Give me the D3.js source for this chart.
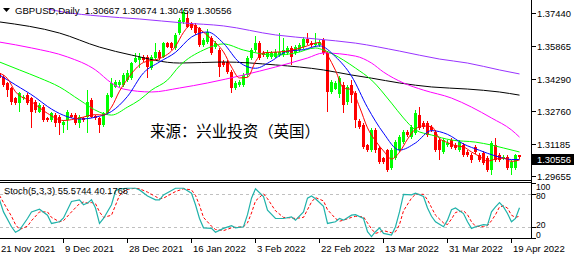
<!DOCTYPE html>
<html>
<head>
<meta charset="utf-8">
<script src="https://cdn.jsdelivr.net/npm/d3@7"></script>
<style>
  body { margin: 0; background: #fff; }
  svg { display: block; font-family: "Liberation Sans", Arial, sans-serif; }
</style>
</head>
<body>
<div id="chart"></div>
<script>
// daily bars, Sun-Fri broker sessions
const dates = [
  "2021-11-21","2021-11-22","2021-11-23","2021-11-24","2021-11-25","2021-11-26","2021-11-28","2021-11-29","2021-11-30",
  "2021-12-01","2021-12-02","2021-12-03","2021-12-05","2021-12-06","2021-12-07","2021-12-08","2021-12-09","2021-12-10",
  "2021-12-12","2021-12-13","2021-12-14","2021-12-15","2021-12-16","2021-12-17","2021-12-19","2021-12-20","2021-12-21",
  "2021-12-22","2021-12-23","2021-12-24","2021-12-26","2021-12-27","2021-12-28","2021-12-29","2021-12-30","2021-12-31",
  "2022-01-02","2022-01-03","2022-01-04","2022-01-05","2022-01-06","2022-01-07","2022-01-09","2022-01-10","2022-01-11",
  "2022-01-12","2022-01-13","2022-01-14","2022-01-16","2022-01-17","2022-01-18","2022-01-19","2022-01-20","2022-01-21",
  "2022-01-23","2022-01-24","2022-01-25","2022-01-26","2022-01-27","2022-01-28","2022-01-30","2022-01-31","2022-02-01",
  "2022-02-02","2022-02-03","2022-02-04","2022-02-06","2022-02-07","2022-02-08","2022-02-09","2022-02-10","2022-02-11",
  "2022-02-13","2022-02-14","2022-02-15","2022-02-16","2022-02-17","2022-02-18","2022-02-20","2022-02-21","2022-02-22",
  "2022-02-23","2022-02-24","2022-02-25","2022-02-27","2022-02-28","2022-03-01","2022-03-02","2022-03-03","2022-03-04",
  "2022-03-06","2022-03-07","2022-03-08","2022-03-09","2022-03-10","2022-03-11","2022-03-13","2022-03-14","2022-03-15",
  "2022-03-16","2022-03-17","2022-03-18","2022-03-20","2022-03-21","2022-03-22","2022-03-23","2022-03-24","2022-03-25",
  "2022-03-27","2022-03-28","2022-03-29","2022-03-30","2022-03-31","2022-04-01","2022-04-03","2022-04-04","2022-04-05",
  "2022-04-06","2022-04-07","2022-04-08","2022-04-10","2022-04-11","2022-04-12","2022-04-13","2022-04-14","2022-04-15",
  "2022-04-17","2022-04-18","2022-04-19","2022-04-20","2022-04-21"
];

// open, high, low, close
const ohlc = [
  [1.3455,1.3462,1.3420,1.3431],[1.3439,1.3447,1.3391,1.3399],[1.3407,1.3415,1.3343,1.3375],[1.3383,1.3391,1.3304,1.3320],
  [1.3336,1.3343,1.3304,1.3312],[1.3312,1.3368,1.3272,1.3360],[1.3339,1.3351,1.3328,1.3343],[1.3351,1.3360,1.3304,1.3312],
  [1.3336,1.3343,1.3193,1.3272],[1.3320,1.3328,1.3264,1.3280],[1.3272,1.3312,1.3264,1.3304],[1.3296,1.3304,1.3224,1.3232],
  [1.3243,1.3248,1.3224,1.3232],[1.3232,1.3272,1.3224,1.3264],[1.3256,1.3264,1.3200,1.3216],[1.3248,1.3256,1.3161,1.3216],
  [1.3208,1.3232,1.3169,1.3224],[1.3232,1.3280,1.3185,1.3272],[1.3256,1.3264,1.3240,1.3248],[1.3256,1.3264,1.3208,1.3216],
  [1.3216,1.3256,1.3193,1.3248],[1.3240,1.3248,1.3224,1.3232],[1.3248,1.3375,1.3169,1.3320],[1.3328,1.3336,1.3240,1.3248],
  [1.3251,1.3256,1.3232,1.3240],[1.3243,1.3248,1.3169,1.3208],[1.3208,1.3272,1.3200,1.3264],[1.3264,1.3360,1.3256,1.3351],
  [1.3343,1.3431,1.3336,1.3407],[1.3391,1.3423,1.3383,1.3415],[1.3399,1.3423,1.3391,1.3415],[1.3399,1.3455,1.3391,1.3447],
  [1.3423,1.3471,1.3415,1.3455],[1.3431,1.3510,1.3423,1.3503],[1.3510,1.3550,1.3503,1.3527],[1.3518,1.3550,1.3479,1.3534],
  [1.3534,1.3542,1.3510,1.3518],[1.3534,1.3542,1.3431,1.3486],[1.3479,1.3542,1.3471,1.3534],[1.3527,1.3598,1.3518,1.3558],
  [1.3558,1.3566,1.3518,1.3527],[1.3534,1.3606,1.3527,1.3598],[1.3598,1.3606,1.3574,1.3582],[1.3598,1.3606,1.3566,1.3574],
  [1.3574,1.3646,1.3566,1.3638],[1.3647,1.3719,1.3638,1.3709],[1.3700,1.3757,1.3690,1.3747],[1.3719,1.3747,1.3670,1.3676],
  [1.3695,1.3700,1.3661,1.3671],[1.3685,1.3695,1.3638,1.3647],[1.3671,1.3676,1.3580,1.3590],[1.3590,1.3623,1.3580,1.3614],
  [1.3605,1.3666,1.3595,1.3652],[1.3623,1.3633,1.3542,1.3552],[1.3580,1.3609,1.3571,1.3599],[1.3566,1.3576,1.3437,1.3485],
  [1.3509,1.3518,1.3485,1.3495],[1.3509,1.3518,1.3452,1.3461],[1.3461,1.3471,1.3361,1.3385],[1.3385,1.3418,1.3375,1.3409],
  [1.3399,1.3423,1.3390,1.3413],[1.3399,1.3456,1.3390,1.3447],[1.3447,1.3537,1.3437,1.3528],[1.3528,1.3576,1.3518,1.3566],
  [1.3566,1.3633,1.3556,1.3599],[1.3599,1.3609,1.3518,1.3528],[1.3552,1.3561,1.3533,1.3542],[1.3533,1.3566,1.3523,1.3556],
  [1.3533,1.3561,1.3523,1.3552],[1.3533,1.3571,1.3528,1.3556],[1.3542,1.3647,1.3533,1.3556],[1.3542,1.3623,1.3533,1.3566],
  [1.3552,1.3585,1.3542,1.3576],[1.3576,1.3585,1.3495,1.3533],[1.3552,1.3590,1.3542,1.3580],[1.3566,1.3599,1.3556,1.3590],
  [1.3580,1.3628,1.3571,1.3619],[1.3619,1.3647,1.3590,1.3599],[1.3599,1.3609,1.3580,1.3590],[1.3590,1.3647,1.3580,1.3599],
  [1.3590,1.3614,1.3580,1.3604],[1.3614,1.3623,1.3542,1.3552],[1.3552,1.3561,1.3270,1.3366],[1.3366,1.3423,1.3356,1.3413],
  [1.3380,1.3418,1.3375,1.3409],[1.3356,1.3442,1.3337,1.3432],[1.3399,1.3413,1.3265,1.3304],[1.3318,1.3399,1.3304,1.3390],
  [1.3399,1.3423,1.3313,1.3351],[1.3361,1.3370,1.3194,1.3232],[1.3228,1.3237,1.3190,1.3199],[1.3208,1.3218,1.3094,1.3104],
  [1.3113,1.3118,1.3080,1.3089],[1.3089,1.3194,1.3080,1.3185],[1.3185,1.3194,1.3075,1.3089],[1.3099,1.3108,1.3022,1.3032],
  [1.3051,1.3056,1.3022,1.3032],[1.3089,1.3094,1.2984,1.2994],[1.3003,1.3099,1.2994,1.3089],[1.3051,1.3137,1.3042,1.3127],
  [1.3089,1.3161,1.3080,1.3151],[1.3127,1.3185,1.3118,1.3175],[1.3175,1.3185,1.3151,1.3161],[1.3151,1.3208,1.3142,1.3199],
  [1.3170,1.3280,1.3160,1.3266],[1.3256,1.3294,1.3185,1.3194],[1.3218,1.3228,1.3190,1.3199],[1.3218,1.3228,1.3151,1.3161],
  [1.3199,1.3208,1.3175,1.3185],[1.3175,1.3185,1.3080,1.3089],[1.3137,1.3146,1.3042,1.3089],[1.3080,1.3146,1.3070,1.3137],
  [1.3113,1.3137,1.3104,1.3123],[1.3137,1.3146,1.3094,1.3104],[1.3113,1.3123,1.3089,1.3099],[1.3089,1.3137,1.3080,1.3127],
  [1.3113,1.3123,1.3056,1.3065],[1.3080,1.3089,1.3056,1.3065],[1.3065,1.3075,1.3027,1.3042],[1.3104,1.3113,1.3070,1.3080],
  [1.3065,1.3075,1.3032,1.3042],[1.3075,1.3085,1.3018,1.3027],[1.3051,1.3061,1.2984,1.2994],[1.2994,1.3132,1.2970,1.3123],
  [1.3113,1.3146,1.3032,1.3042],[1.3065,1.3075,1.3032,1.3042],[1.3051,1.3065,1.3042,1.3056],[1.3056,1.3065,1.2994,1.3003],
  [1.3003,1.3042,1.2970,1.3032],[1.3003,1.3070,1.2994,1.3065],[1.30667,1.30674,1.30459,1.30556]
];

// moving averages: [bar index, price]
const maRed = [[0,1.3456],[2,1.3430],[4,1.3367],[8,1.3320],[12,1.3264],[16,1.3230],[20,1.3242],[24,1.3258],[26,1.3256],
  [28,1.3294],[30,1.3370],[32,1.3428],[36,1.3507],[40,1.3525],[44,1.3584],[46,1.3650],[48,1.3688],[50,1.3666],[52,1.3635],
  [54,1.3601],[56,1.3557],[58,1.3485],[60,1.3433],[62,1.3436],[64,1.3511],[66,1.3553],[68,1.3555],[72,1.3561],[76,1.3580],
  [80,1.3602],[82,1.3542],[84,1.3469],[86,1.3385],[88,1.3377],[90,1.3295],[92,1.3195],[94,1.3133],[96,1.3085],[98,1.3047],
  [100,1.3079],[102,1.3141],[104,1.3190],[106,1.3204],[108,1.3201],[110,1.3145],[112,1.3125],[114,1.3110],[116,1.3104],
  [118,1.3080],[120,1.3059],[122,1.3037],[124,1.3046],[126,1.3051],[128,1.3035],[130,1.3042]];
const maBlue = [[0,1.3447],[4,1.3400],[9,1.3340],[12,1.3297],[16,1.3255],[20,1.3237],[24,1.3246],[28,1.3273],[32,1.3345],
  [36,1.3457],[40,1.3509],[44,1.3555],[48,1.3628],[52,1.3652],[56,1.3598],[60,1.3507],[64,1.3479],[68,1.3514],[72,1.3560],
  [76,1.3568],[80,1.3586],[84,1.3534],[88,1.3442],[92,1.3292],[96,1.3170],[100,1.3089],[104,1.3123],[108,1.3182],
  [112,1.3164],[116,1.3118],[120,1.3088],[124,1.3061],[128,1.3044],[130,1.3044]];
const maGreen = [[0,1.3509],[5,1.3471],[10,1.3433],[15,1.3390],[20,1.3328],[25,1.3270],[28,1.3256],[32,1.3294],[35,1.3328],
  [38,1.3375],[42,1.3423],[45,1.3490],[51,1.3566],[56,1.3595],[61,1.3566],[69,1.3542],[74,1.3552],[79,1.3576],[81,1.3566],
  [86,1.3518],[89,1.3480],[93,1.3423],[98,1.3313],[101,1.3242],[104,1.3185],[108,1.3161],[113,1.3137],[119,1.3127],
  [123,1.3113],[126,1.3099],[130,1.3080]];
const maMagenta = [[0,1.3604],[8,1.3576],[17,1.3533],[24,1.3471],[28,1.3409],[31,1.3380],[38,1.3366],[45,1.3385],[52,1.3409],
  [61,1.3447],[69,1.3485],[77,1.3528],[81,1.3552],[89,1.3537],[93,1.3504],[96,1.3461],[101,1.3409],[106,1.3375],
  [113,1.3337],[118,1.3294],[123,1.3242],[128,1.3185],[130,1.3151]];
const maBlack = [[0,1.3700],[15,1.3647],[25,1.3580],[33,1.3542],[45,1.3504],[56,1.3509],[69,1.3495],[81,1.3471],[88,1.3447],
  [93,1.3432],[100,1.3409],[108,1.3390],[117,1.3380],[125,1.3366],[130,1.3351]];
const maPurple = [[12,1.3762],[16,1.3747],[25,1.3728],[35,1.3714],[46,1.3695],[56,1.3681],[69,1.3638],[79,1.3619],[89,1.3599],
  [100,1.3561],[110,1.3523],[117,1.3504],[125,1.3471],[130,1.3452]];

// Stochastic (5,3,3): [bar index, value]
const stochK = [[0,70],[1,48],[3,21],[4,11],[5,15],[7,36],[8,48],[10,53],[12,42],[13,27],[15,30],[16,37],[18,67],[20,70],
  [21,61],[22,64],[23,70],[24,55],[25,27],[26,36],[28,61],[29,86],[30,90],[32,91],[34,91],[35,88],[37,77],[39,70],[40,70],
  [41,79],[44,91],[46,91],[48,82],[49,61],[50,36],[51,19],[53,18],[54,11],[56,18],[58,23],[59,19],[61,21],[62,43],[63,73],
  [64,90],[66,76],[67,51],[69,36],[71,36],[73,39],[74,33],[76,48],[77,73],[78,77],[79,72],[81,58],[82,27],[84,30],[85,36],
  [86,33],[88,42],[89,43],[91,36],[92,12],[93,3],[94,12],[95,19],[96,9],[98,6],[99,21],[100,48],[101,80],[103,79],[104,82],
  [106,76],[107,55],[108,40],[109,30],[111,21],[112,33],[113,52],[114,55],[116,45],[117,30],[118,18],[119,21],[121,25],
  [122,24],[123,48],[124,57],[125,65],[126,57],[127,45],[128,30],[129,36],[130,55.5744]];
const stochD = [[0,78],[1,65],[3,40],[4,25],[5,16],[7,22],[8,32],[10,48],[12,48],[13,38],[15,30],[16,32],[18,48],[20,63],
  [21,66],[22,64],[23,65],[24,63],[25,48],[26,38],[28,42],[29,60],[30,78],[32,89],[34,91],[35,90],[37,84],[39,76],[40,72],
  [41,73],[44,85],[46,90],[48,88],[49,78],[50,60],[51,38],[53,22],[54,16],[56,14],[58,19],[59,20],[61,21],[62,28],[63,46],
  [64,68],[66,81],[67,72],[69,50],[71,38],[73,37],[74,36],[76,38],[77,52],[78,66],[79,74],[81,68],[82,52],[84,36],[85,31],
  [86,33],[88,38],[89,40],[91,39],[92,28],[93,17],[94,9],[95,11],[96,14],[98,10],[99,12],[100,25],[101,50],[103,73],[104,80],
  [106,80],[107,70],[108,56],[109,42],[111,28],[112,25],[113,35],[114,47],[116,50],[117,43],[118,30],[119,22],[121,21],
  [122,23],[123,32],[124,43],[125,57],[126,59],[127,55],[128,42],[129,38],[130,40.1768]];

const priceTicks = [1.37440, 1.35865, 1.34290, 1.32760, 1.31185, 1.29655];
// stochastic labels sit a little apart so they stay readable
const stochTicks = [[100, 186.5], [80, 196], [20, 224.5], [0, 234.5]];
const dateTicks = [
  ["2021-11-21", "21 Nov 2021"], ["2021-12-09", "9 Dec 2021"], ["2021-12-28", "28 Dec 2021"],
  ["2022-01-16", "16 Jan 2022"], ["2022-02-03", "3 Feb 2022"], ["2022-02-22", "22 Feb 2022"],
  ["2022-03-13", "13 Mar 2022"], ["2022-03-31", "31 Mar 2022"], ["2022-04-19", "19 Apr 2022"]
];
const lastPrice = 1.30556;
const titleText = "GBPUSD,Daily  1.30667 1.30674 1.30459 1.30556";
const stochText = "Stoch(5,3,3) 55.5744 40.1768";
const watermark = "来源：兴业投资（英国）";

const W = 577, H = 260;
const axisX = 531.5;
const mainBottom = 180.5, subTop = 182.5, subBottom = 238.5;

const svg = d3.select('#chart').append('svg')
  .attr('width', W)
  .attr('height', H);

const x = d3.scalePoint().domain(dates).range([-1, 519]);
const y = d3.scaleLinear().domain([1.29655, 1.37440]).range([176, 12.7]);
const ys = d3.scaleLinear().domain([0, 100]).range([238.3, 183.3]);

const defs = svg.append('defs');
defs.append('clipPath').attr('id', 'clipMain')
  .append('rect').attr('x', 0).attr('y', 0).attr('width', axisX).attr('height', mainBottom);
defs.append('clipPath').attr('id', 'clipSub')
  .append('rect').attr('x', 0).attr('y', subTop + 0.5).attr('width', axisX).attr('height', subBottom - subTop - 1);

// candles
const main = svg.append('g').attr('clip-path', 'url(#clipMain)');
const bars = main.append('g').attr('shape-rendering', 'crispEdges')
  .selectAll('g')
  .data(ohlc)
  .enter().append('g');

bars.append('line')
  .attr('x1', (d, i) => x(dates[i]) + 0.5)
  .attr('x2', (d, i) => x(dates[i]) + 0.5)
  .attr('y1', (d) => y(d[1]))
  .attr('y2', (d) => y(d[2]))
  .attr('stroke', (d) => d[3] >= d[0] ? '#00ff00' : '#ff0000');

bars.append('rect')
  .attr('x', (d, i) => x(dates[i]) - 1)
  .attr('width', 3)
  .attr('y', (d) => y(Math.max(d[0], d[3])))
  .attr('height', (d) => Math.max(1, Math.abs(y(d[0]) - y(d[3]))))
  .attr('fill', (d) => d[3] >= d[0] ? '#00ff00' : '#ff0000');

// moving averages
const maLine = d3.line()
  .x((d) => x(dates[d[0]]) + 0.5)
  .y((d) => y(d[1]))
  .curve(d3.curveMonotoneX);

const maList = [
  [maPurple, '#9933ff'], [maBlack, '#000000'], [maMagenta, '#ff00ff'],
  [maGreen, '#00ff00'], [maBlue, '#0000ff'], [maRed, '#ff0000']
];
main.append('g').selectAll('path')
  .data(maList)
  .enter().append('path')
  .attr('d', (d) => maLine(d[0]))
  .attr('fill', 'none')
  .attr('stroke', (d) => d[1])
  .attr('stroke-width', 1);

// watermark
svg.append('text')
  .attr('x', 150)
  .attr('y', 137)
  .attr('font-family', '"Noto Sans CJK SC", sans-serif')
  .attr('font-size', 15.5)
  .attr('textLength', 170)
  .attr('fill', '#000')
  .text(watermark);

// title
svg.append('path')
  .attr('d', 'M3,8 L10,8 L6.5,12 Z')
  .attr('fill', '#000');
svg.append('text')
  .attr('x', 15)
  .attr('y', 13.5)
  .attr('font-size', 9.6)
  .attr('fill', '#000')
  .style('white-space', 'pre')
  .text(titleText);

// stochastic panel
const sub = svg.append('g').attr('clip-path', 'url(#clipSub)');
sub.selectAll('line.level')
  .data([80, 20])
  .enter().append('line')
  .attr('class', 'level')
  .attr('x1', 0).attr('x2', axisX)
  .attr('y1', (d) => Math.round(ys(d)) + 0.5)
  .attr('y2', (d) => Math.round(ys(d)) + 0.5)
  .attr('stroke', '#c0c0c0')
  .attr('stroke-dasharray', '3,3');

const stLine = d3.line()
  .x((d) => x(dates[d[0]]) + 0.5)
  .y((d) => ys(d[1]));

sub.append('path')
  .attr('d', stLine(stochD))
  .attr('fill', 'none')
  .attr('stroke', '#ff0000')
  .attr('stroke-dasharray', '3,2');
sub.append('path')
  .attr('d', stLine(stochK))
  .attr('fill', 'none')
  .attr('stroke', '#20b2aa')
  .attr('stroke-width', 1.2);

svg.append('text')
  .attr('x', 4)
  .attr('y', 194)
  .attr('font-size', 9.4)
  .attr('fill', '#000')
  .text(stochText);

// frame lines
const frame = svg.append('g').attr('stroke', '#000').attr('shape-rendering', 'crispEdges');
frame.append('line').attr('x1', 0).attr('x2', axisX).attr('y1', mainBottom).attr('y2', mainBottom);
frame.append('line').attr('x1', 0).attr('x2', axisX).attr('y1', subTop).attr('y2', subTop);
frame.append('line').attr('x1', 0).attr('x2', axisX).attr('y1', subBottom).attr('y2', subBottom);
frame.append('line').attr('x1', axisX).attr('x2', axisX).attr('y1', 0).attr('y2', subBottom);

// price axis
const pAxis = svg.append('g');
priceTicks.forEach((p) => {
  const py = Math.round(y(p)) + 0.5;
  pAxis.append('line').attr('x1', axisX).attr('x2', axisX + 4).attr('y1', py).attr('y2', py)
    .attr('stroke', '#000').attr('shape-rendering', 'crispEdges');
  pAxis.append('text').attr('x', 537).attr('y', py + 3.5)
    .attr('font-size', 9.4).attr('fill', '#000').text(p.toFixed(5));
});

const ly = y(lastPrice) + 2;
pAxis.append('rect').attr('x', axisX + 0.5).attr('y', Math.round(ly - 5.5)).attr('width', 42).attr('height', 11)
  .attr('fill', '#000');
pAxis.append('text').attr('x', 537).attr('y', Math.round(ly - 5.5) + 8.8)
  .attr('font-size', 9.4).attr('fill', '#fff').text(lastPrice.toFixed(5));

// stochastic axis
stochTicks.forEach((t) => {
  const ty = Math.round(ys(t[0])) + 0.5;
  pAxis.append('line').attr('x1', axisX).attr('x2', axisX + 4).attr('y1', ty).attr('y2', ty)
    .attr('stroke', '#000').attr('shape-rendering', 'crispEdges');
  pAxis.append('text').attr('x', 536).attr('y', t[1] + 3.3)
    .attr('font-size', 8.6).attr('fill', '#000').text(t[0]);
});

// time axis
const tAxis = svg.append('g');
dateTicks.forEach((t) => {
  const tx = x(t[0]) + 0.5;
  tAxis.append('line').attr('x1', tx).attr('x2', tx).attr('y1', subBottom).attr('y2', subBottom + 4)
    .attr('stroke', '#000').attr('shape-rendering', 'crispEdges');
  tAxis.append('text').attr('x', tx + 1.5).attr('y', 251.5)
    .attr('font-size', 9.6).attr('fill', '#000').text(t[1]);
});
</script>
</body>
</html>
